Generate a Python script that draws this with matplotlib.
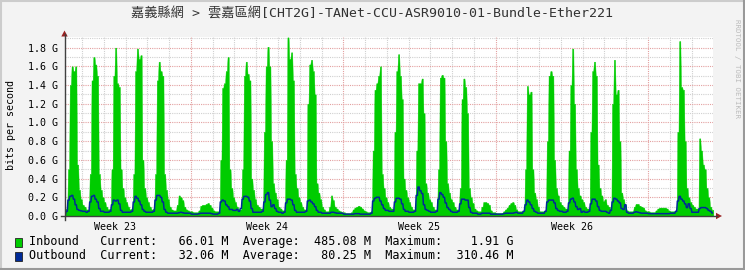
import numpy as np
import matplotlib
matplotlib.use("Agg")
import matplotlib.pyplot as plt
from matplotlib.patches import Rectangle, Polygon
from matplotlib.lines import Line2D

# ---------------- data (2-hour samples, values in G bit/s) ----------------
samples_per_day = 12          # 2-hour consolidation
# one row per day: hours 0,2,4,...,22
inbound = [
    .12, .08, .06, .08, .50, 1.40, 1.60, 1.55, 1.60, .55, .28, .18,   # d0
    .12, .10, .07, .07, .45, 1.45, 1.70, 1.62, 1.50, .45, .28, .20,   # d1
    .15, .10, .07, .08, .50, 1.50, 1.80, 1.42, 1.38, .50, .30, .20,   # d2
    .15, .10, .07, .08, .45, 1.55, 1.79, 1.68, 1.72, .60, .30, .20,   # d3
    .15, .10, .07, .08, .45, 1.45, 1.65, 1.55, 1.50, .45, .28, .18,   # d4
    .10, .07, .06, .06, .12, .22, .20, .17, .10, .07, .06, .05,       # d5
    .05, .04, .04, .04, .06, .11, .12, .12, .13, .14, .12, .09,       # d6
    .06, .05, .05, .05, .60, 1.37, 1.42, 1.55, 1.70, .50, .30, .20,   # d7
    .15, .10, .07, .07, .50, 1.50, 1.65, 1.52, 1.45, .40, .28, .18,   # d8
    .12, .10, .08, .08, .90, 1.60, 1.81, 1.60, .80, .35, .25, .18,    # d9
    .10, .08, .06, .06, .60, 1.91, 1.68, 1.75, 1.45, .45, .30, .20,   # d10
    .15, .10, .07, .07, 1.20, 1.62, 1.67, 1.55, 1.30, .35, .25, .18,  # d11
    .10, .07, .05, .05, .10, .22, .17, .10, .08, .06, .05, .04,       # d12
    .04, .03, .03, .03, .04, .07, .09, .10, .11, .10, .08, .06,       # d13
    .05, .04, .04, .05, .70, 1.35, 1.42, 1.50, 1.60, .45, .30, .20,   # d14
    .15, .10, .08, .08, .90, 1.55, 1.73, 1.50, 1.25, .40, .28, .20,   # d15
    .15, .10, .07, .07, .70, 1.42, 1.42, 1.47, 1.10, .35, .25, .18,   # d16
    .15, .10, .07, .07, .50, 1.48, 1.51, 1.48, .80, .35, .25, .18,    # d17
    .15, .10, .07, .07, .30, 1.25, 1.47, 1.38, 1.10, .30, .20, .14,   # d18
    .08, .06, .05, .05, .10, .15, .15, .14, .12, .06, .04, .04,       # d19
    .03, .03, .03, .03, .05, .07, .09, .12, .14, .15, .12, .07,       # d20
    .05, .05, .05, .05, .50, 1.39, 1.30, 1.33, .50, .25, .18, .10,    # d21
    .05, .05, .05, .06, .80, 1.50, 1.55, 1.50, .60, .30, .22, .15,    # d22
    .12, .10, .08, .08, .70, 1.40, 1.79, 1.20, .50, .30, .22, .18,    # d23
    .15, .10, .08, .08, .90, 1.55, 1.65, 1.50, .55, .30, .22, .16,    # d24
    .18, .12, .10, .08, 1.20, 1.67, 1.30, 1.35, .80, .25, .18, .12,   # d25
    .06, .05, .05, .05, .10, .13, .13, .11, .10, .09, .06, .05,       # d26
    .05, .04, .04, .04, .06, .08, .09, .09, .09, .09, .08, .06,       # d27
    .05, .05, .05, .06, .90, 1.87, 1.38, 1.35, .80, .30, .20, .15,    # d28
    .12, .10, .08, .08, .83, .70, .55, .50, .30, .20, .10, .066,      # d29
]
outbound = [
    .05, .04, .02, .05, .17, .21, .22, .18, .12, .07, .06, .055,      # d0
    .05, .05, .04, .05, .15, .21, .22, .18, .15, .08, .05, .05,       # d1
    .04, .04, .04, .05, .12, .17, .16, .17, .13, .06, .04, .04,       # d2
    .04, .04, .04, .05, .15, .21, .19, .16, .12, .07, .05, .04,       # d3
    .04, .04, .04, .05, .17, .22, .22, .20, .15, .07, .04, .03,       # d4
    .03, .03, .03, .03, .03, .035, .04, .035, .03, .03, .03, .03,     # d5
    .02, .02, .02, .02, .025, .03, .03, .03, .03, .03, .03, .025,     # d6
    .02, .02, .02, .03, .15, .17, .16, .12, .10, .07, .07, .06,       # d7
    .06, .07, .05, .08, .18, .21, .21, .20, .16, .08, .04, .04,       # d8
    .04, .04, .04, .05, .15, .23, .25, .17, .10, .12, .08, .05,       # d9
    .04, .04, .03, .04, .14, .18, .18, .17, .12, .06, .04, .04,       # d10
    .04, .04, .04, .05, .16, .17, .15, .13, .10, .06, .04, .04,       # d11
    .03, .03, .03, .03, .03, .04, .04, .035, .03, .03, .03, .03,      # d12
    .02, .02, .02, .02, .02, .02, .025, .025, .025, .02, .02, .02,    # d13
    .02, .02, .02, .03, .16, .19, .20, .20, .16, .12, .08, .06,       # d14
    .06, .05, .05, .05, .15, .19, .19, .18, .13, .07, .05, .05,       # d15
    .04, .04, .04, .05, .22, .31, .27, .24, .12, .07, .06, .05,       # d16
    .04, .04, .04, .05, .18, .25, .23, .20, .14, .09, .07, .05,       # d17
    .04, .04, .04, .05, .13, .18, .18, .17, .17, .09, .04, .03,       # d18
    .03, .03, .02, .02, .03, .03, .03, .03, .03, .02, .02, .02,       # d19
    .02, .02, .02, .02, .025, .03, .03, .03, .03, .03, .035, .04,     # d20
    .03, .03, .03, .05, .12, .17, .15, .12, .08, .05, .04, .03,       # d21
    .03, .03, .03, .05, .15, .17, .17, .17, .14, .08, .06, .05,       # d22
    .05, .04, .04, .05, .14, .18, .19, .15, .10, .07, .08, .04,       # d23
    .05, .04, .04, .05, .13, .18, .18, .16, .10, .06, .05, .05,       # d24
    .05, .04, .03, .06, .15, .19, .18, .16, .14, .08, .07, .12,       # d25
    .04, .03, .03, .03, .04, .045, .04, .035, .03, .03, .03, .03,     # d26
    .025, .025, .025, .025, .025, .025, .025, .025, .025, .025, .025, .025,  # d27
    .03, .03, .03, .05, .16, .21, .18, .16, .13, .09, .13, .08,       # d28
    .04, .04, .04, .04, .08, .09, .09, .09, .08, .06, .05, .032,      # d29
]
week_labels = ["Week 23", "Week 24", "Week 25", "Week 26"]
week_label_pos = [2.5, 9.5, 16.5, 23.5]      # days
week_starts = [6, 13, 20, 27]                # days
y_ticks = [0.0, 0.2, 0.4, 0.6, 0.8, 1.0, 1.2, 1.4, 1.6, 1.8]
x_start, x_end = 0.19, 30.0
y_top = 1.914

title = "嘉義縣網 > 雲嘉區網[CHT2G]-TANet-CCU-ASR9010-01-Bundle-Ether221"
legend_rows = [
    "Inbound   Current:   66.01 M  Average:  485.08 M  Maximum:    1.91 G",
    "Outbound  Current:   32.06 M  Average:   80.25 M  Maximum:  310.46 M",
]
c_in = "#00CC00"
c_out = "#002A97"

# ---------------- figure ----------------
W, H = 745, 270
MONO = "DejaVu Sans Mono"
fig = plt.figure(figsize=(W / 100, H / 100), dpi=100, facecolor="#F3F3F3")

def fx(x):
    return x / W

def fy(y):
    return 1 - y / H

L, R, T, B = 64.5, 713.3, 37.0, 216.0
ax = fig.add_axes([fx(L), fy(B), (R - L) / W, (B - T) / H])
ax.set_facecolor("white")
ax.set_xlim(x_start, x_end)
ax.set_ylim(0, y_top)

# each 2-hour sample is drawn as a flat segment with short slanted joins
dt = 1.0 / samples_per_day
n = len(inbound)
k = np.arange(n)
lo = (k + 0.18) * dt
hi = (k + 0.82) * dt
t = np.column_stack([lo, hi]).ravel()
t[0], t[-1] = 0.0, n * dt
yin = np.repeat(np.array(inbound), 2)
yout = np.repeat(np.array(outbound), 2)

# grid
gray = "#D0D0D0"
red = "#E3A0A0"
for d in range(1, 30):
    ax.axvline(d, color=red if d in week_starts else gray, lw=0.8,
               ls=(0, (1, 1)), zorder=0.5)
for kk in range(1, 20):
    v = kk * 0.1
    ax.axhline(v, color=red if kk % 2 == 0 else gray, lw=0.8,
               ls=(0, (1, 1)), zorder=0.5)

ax.fill_between(t, 0, yin, color=c_in, lw=0.3, edgecolor=c_in, zorder=2)
ax.plot(t, yout, color=c_out, lw=1.1, zorder=3)

for s in ax.spines.values():
    s.set_visible(False)

ax.set_yticks(y_ticks)
ax.set_yticklabels([f"{v:.1f} G" for v in y_ticks], family=MONO, fontsize=7.2)
ax.set_xticks(week_label_pos)
ax.set_xticklabels(week_labels, family=MONO, fontsize=7.2)
ax.tick_params(axis="y", length=0, pad=5)
ax.tick_params(axis="x", length=0, pad=4)

# axes lines with arrows
axis_col = "#404040"
arrow_col = "#992222"
fig.add_artist(Line2D([fx(L), fx(L)], [fy(219.5), fy(34)], color=axis_col, lw=1))
fig.add_artist(Line2D([fx(61), fx(717)], [fy(B), fy(B)], color=axis_col, lw=1))
fig.add_artist(Polygon([[fx(L), fy(30.5)], [fx(L - 3.2), fy(36.5)], [fx(L + 3.2), fy(36.5)]],
                       closed=True, color=arrow_col, lw=0))
fig.add_artist(Polygon([[fx(722), fy(B)], [fx(716), fy(B - 3.2)], [fx(716), fy(B + 3.2)]],
                       closed=True, color=arrow_col, lw=0))

# texts
fig.text(fx(372), fy(14.5), title, ha="center", va="center", fontsize=9.5,
         family=[MONO, "Noto Sans CJK TC"], color="#333333")
fig.text(fx(11), fy(125), "bits per second", rotation=90, ha="center",
         va="center", fontsize=7.2, family=MONO, color="black")
fig.text(fx(736.5), fy(19), "RRDTOOL / TOBI OETIKER", rotation=270, ha="center",
         va="top", fontsize=5.3, family=MONO, color="#BBBBBB")

# legend
row_y = [242, 256]
for i, (txt, col) in enumerate(zip(legend_rows, [c_in, c_out])):
    fig.add_artist(Rectangle((fx(15), fy(row_y[i] + 4.5)), 7 / W, 9 / H,
                             facecolor=col, edgecolor="#222222", lw=0.6))
    fig.text(fx(29), fy(row_y[i]), txt, ha="left", va="center", fontsize=8.5,
             family=MONO, color="black")

# 3D frame
fig.add_artist(Line2D([0, 1], [fy(0.75), fy(0.75)], color="#CCCCCC", lw=1.5))
fig.add_artist(Line2D([fx(0.75), fx(0.75)], [0, 1], color="#CCCCCC", lw=1.5))
fig.add_artist(Line2D([0, 1], [fy(269.25), fy(269.25)], color="#999999", lw=1.5))
fig.add_artist(Line2D([fx(744.25), fx(744.25)], [0, 1], color="#999999", lw=1.5))

fig.savefig("out.png", dpi=100, facecolor=fig.get_facecolor())
